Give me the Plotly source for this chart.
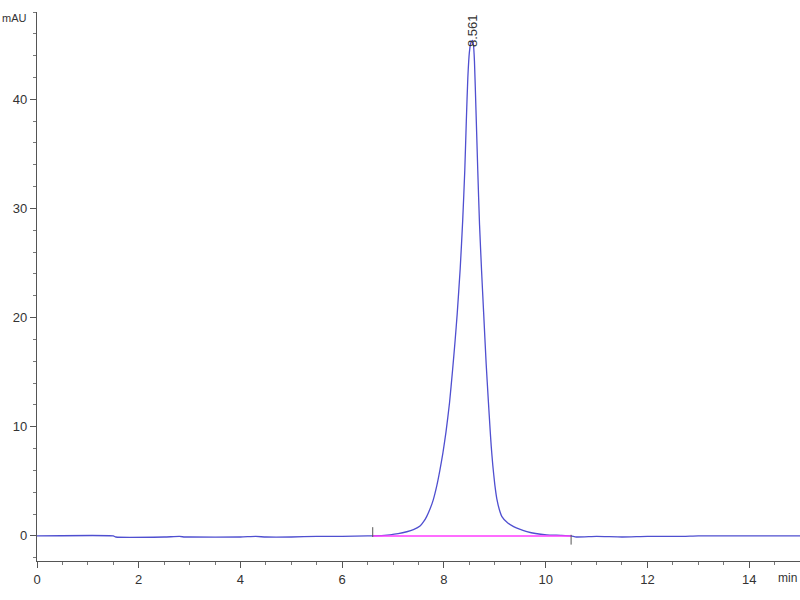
import plotly.graph_objects as go

# Chromatogram signal (min, mAU)
time_min = [0.0, 1.5, 1.55, 2.5, 2.8, 2.9, 3.0, 4.0, 4.3, 4.5, 5.0, 5.5, 5.7,
            6.0, 6.5, 6.6, 6.94, 7.1, 7.27, 7.4, 7.53, 7.6, 7.66, 7.73, 7.79,
            7.86, 7.92, 7.98, 8.04, 8.11, 8.17, 8.22, 8.26, 8.32, 8.37, 8.41,
            8.44, 8.47, 8.50, 8.53, 8.561, 8.58, 8.60, 8.63, 8.665, 8.70,
            8.74, 8.78, 8.83, 8.874, 8.907, 8.93, 8.96, 9.0, 9.04, 9.09, 9.14,
            9.25, 9.37, 9.5, 9.63, 9.8, 10.02, 10.3, 10.5, 10.6, 11.0, 11.5,
            12.0, 12.7, 13.0, 15.0]
signal_mau = [0.0, 0.0, -0.1, -0.1, -0.05, -0.1, -0.1, -0.1, -0.05, -0.1,
              -0.1, -0.05, -0.05, -0.05, 0.0, 0.0, 0.1, 0.2, 0.38, 0.58, 0.9,
              1.3, 1.77, 2.5, 3.3, 4.6, 6.0, 7.6, 9.5, 12.2, 15.2, 17.9,
              20.3, 24.5, 29.0, 33.5, 38.0, 42.0, 44.3, 45.2, 45.4, 45.0, 43.5,
              39.0, 33.5, 28.5, 24.3, 20.5, 15.8, 12.3, 9.8, 8.2, 6.5, 4.7,
              3.4, 2.4, 1.77, 1.2, 0.85, 0.6, 0.4, 0.22, 0.1, 0.05, 0.0, -0.1,
              -0.05, -0.1, -0.05, -0.05, 0.0, 0.0]

# Integration baseline and peak marks
base_time = [6.6, 10.5]
base_level = [0.0, 0.0]
peak_rt = 8.561
peak_label = "8.561"

fig = go.Figure()

fig.add_trace(go.Scatter(
    x=time_min, y=signal_mau,
    mode="lines",
    line=dict(color="#4f4fd0", width=1.3, shape="spline", smoothing=0.5),
    showlegend=False,
))

fig.add_trace(go.Scatter(
    x=base_time, y=base_level,
    mode="lines",
    line=dict(color="#ff3cff", width=1.5),
    showlegend=False,
))

# start / end tick marks of the integration
fig.add_trace(go.Scatter(
    x=base_time, y=[0.35, -0.35],
    mode="markers",
    marker=dict(symbol="line-ns", size=7, line=dict(color="#555555", width=1)),
    showlegend=False,
))

fig.add_annotation(
    x=peak_rt, y=44.6, text=peak_label, showarrow=False,
    textangle=-90, yanchor="bottom",
    font=dict(family="Liberation Sans", size=13, color="#333333"),
)
fig.add_annotation(
    x=0, y=1, xref="paper", yref="paper", text="mAU", showarrow=False,
    xanchor="right", yanchor="middle", xshift=-8, yshift=-6,
    font=dict(family="Liberation Sans", size=11, color="#333333"),
)
fig.add_annotation(
    x=1, y=0, xref="paper", yref="paper", text="min", showarrow=False,
    xanchor="right", yanchor="middle", xshift=-1, yshift=-17,
    font=dict(family="Liberation Sans", size=12, color="#333333"),
)

axis_font = dict(family="Liberation Sans", size=13, color="#333333")

fig.update_xaxes(
    range=[0, 15], tickvals=[0, 2, 4, 6, 8, 10, 12, 14],
    showline=True, linecolor="#555555", linewidth=1.2,
    ticks="outside", ticklen=6, tickcolor="#555555",
    minor=dict(dtick=0.5, ticks="outside", ticklen=3, tickcolor="#777777"),
    showgrid=False, zeroline=False, tickfont=axis_font, automargin=False,
)
fig.update_yaxes(
    range=[-2.3, 48], tickvals=[0, 10, 20, 30, 40],
    showline=True, linecolor="#555555", linewidth=1.2,
    ticks="outside", ticklen=6, tickcolor="#555555",
    minor=dict(dtick=2, ticks="outside", ticklen=3, tickcolor="#777777"),
    showgrid=False, zeroline=False, tickfont=axis_font, automargin=False,
)
fig.update_layout(
    width=800, height=600,
    margin=dict(l=37, r=0, t=12, b=39),
    paper_bgcolor="white", plot_bgcolor="white",
)

# page body margin would push the fixed-size figure off by 8px
fig.write_html(
    "out.html",
    config={"displayModeBar": False},
    post_script="document.body.style.margin='0px';",
)
